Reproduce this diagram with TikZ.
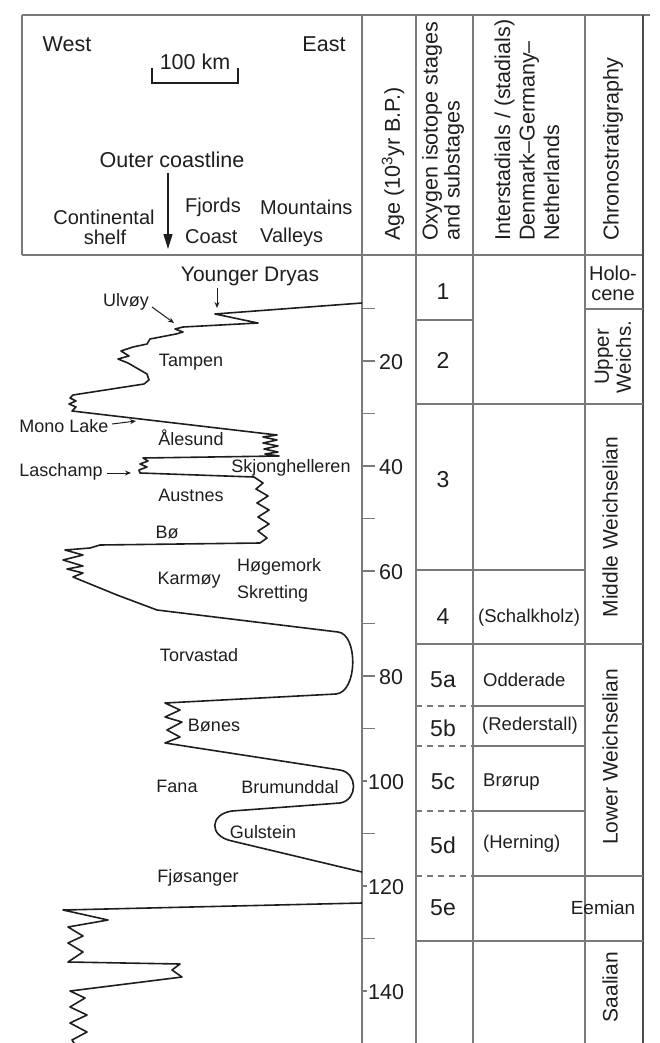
\documentclass[tikz,border=0pt]{standalone}
\usepackage{fontspec}
\setmainfont{Liberation Sans}
\usetikzlibrary{arrows.meta}
\definecolor{ink}{HTML}{1E1E1E}
\definecolor{rulec}{HTML}{7A7A7A}
\begin{document}
\begin{tikzpicture}[x=1pt,y=-1pt,
  tbl/.style={draw=rulec,line width=1.1pt},
  tbldash/.style={draw=rulec,line width=1.1pt,dash pattern=on 6pt off 5pt},
  curve/.style={draw=ink,line width=1.6pt,line join=round},
  ptr/.style={draw=ink,line width=1pt,-{Stealth[length=6pt,width=5pt]}},
  lbl/.style={inner sep=0pt,text=ink,font=\fontsize{18}{20}\selectfont},
  hdA/.style={inner sep=0pt,text=ink,font=\fontsize{21.5}{22}\selectfont},
  hdB/.style={inner sep=0pt,text=ink,font=\fontsize{20}{22}\selectfont},
  hdR/.style={inner sep=0pt,text=ink,font=\fontsize{21.5}{22}\selectfont,rotate=90,anchor=west,align=left},
  chr/.style={inner sep=0pt,text=ink,font=\fontsize{21}{22}\selectfont,rotate=90},
  stg/.style={inner sep=0pt,text=ink,font=\fontsize{23}{24}\selectfont},
  ist/.style={inner sep=0pt,text=ink,font=\fontsize{18.5}{20}\selectfont,anchor=west},
  agel/.style={inner sep=0pt,text=ink,font=\fontsize{21.5}{22}\selectfont}
]
\useasboundingbox (0,0) rectangle (660,1043);

% ---------- frame and table ----------
\draw[tbl] (22,15) -- (650,15);
\draw[tbl] (22,15) -- (22,255);
\draw[tbl,line width=1.6pt] (22,255) -- (643,255);
\draw[tbl] (362,15) -- (362,1043);
\draw[tbl] (416,15) -- (416,1043);
\draw[tbl] (473,15) -- (473,1043);
\draw[tbl] (585,15) -- (585,1043);
\draw[tbl,line width=1.6pt,draw=ink!80] (643,15) -- (643,1043);

\draw[tbl] (416,320) -- (473,320);
\draw[tbl] (585,309) -- (643,309);
\draw[tbl] (416,404) -- (643,404);
\draw[tbl] (416,570) -- (585,570);
\draw[tbl] (416,644) -- (643,644);
\draw[tbldash] (416,706) -- (473,706);
\draw[tbl] (473,706) -- (585,706);
\draw[tbldash] (416,746) -- (473,746);
\draw[tbl] (473,746) -- (585,746);
\draw[tbldash] (416,811) -- (473,811);
\draw[tbl] (473,811) -- (585,811);
\draw[tbldash] (416,876) -- (473,876);
\draw[tbl] (473,876) -- (643,876);
\draw[tbl] (416,941) -- (643,941);

% ---------- age axis ----------
\foreach \a in {10,30,50,70,90,110,130}
  \draw[tbl] (362,{256+5.25*\a}) -- (375,{256+5.25*\a});
\foreach \a in {20,40,60,80}
  {\draw[tbl] (362,{256+5.25*\a}) -- (375,{256+5.25*\a});
   \node[agel,anchor=west] (age\a) at (379,{257+5.25*\a}) {\a};}
\foreach \a in {100,120,140}
  {\draw[tbl] (362,{256+5.25*\a}) -- (367,{256+5.25*\a});
   \node[agel,anchor=west] (age\a) at (368,{257+5.25*\a}) {\a};}

% ---------- header, left ----------
\node[hdA] (west) at (67,44) {West};
\node[hdA] (east) at (324,44) {East};
\node[hdA] (km) at (195,62) {100 km};
\coordinate (sbA) at (152,68);
\coordinate (sbB) at (152,83);
\coordinate (sbC) at (238,83);
\coordinate (sbD) at (238,68);
\draw[draw=ink,line width=1.2pt] (sbA) -- (sbB) -- (sbC) -- (sbD);
\node[hdA] (outer) at (172,160) {Outer coastline};
\coordinate (coastS) at (168,173);
\coordinate (coastE) at (168,249);
\draw[draw=ink,line width=1.3pt,-{Triangle[length=15pt,width=9pt]}] (coastS) -- (coastE);
\node[hdB] (cont) at (104,217) {Continental};
\node[hdB] (shelf) at (105,237) {shelf};
\node[hdB,anchor=west] (fjords) at (185,207) {Fjords};
\node[hdB,anchor=west] (coast) at (185,237) {Coast};
\node[hdB,anchor=west] (mount) at (260,207) {Mountains};
\node[hdB,anchor=west] (valleys) at (260,237) {Valleys};

% ---------- header, right ----------
\node[hdR] (agehd) at (393,241) {Age (10\textsuperscript{3}yr B.P.)};
\node[hdR] (oxyhd) at (443,241) {Oxygen isotope stages\\and substages};
\node[hdR,font=\fontsize{21.5}{24.5}\selectfont] (interhd) at (527,241) {Interstadials / (stadials)\\Denmark–Germany–\\Netherlands};
\node[hdR] (chronohd) at (613,241) {Chronostratigraphy};

% ---------- isotope stages ----------
\node[stg] (s1) at (443,292) {1};
\node[stg] (s2) at (443,360) {2};
\node[stg] (s3) at (443,480) {3};
\node[stg] (s4) at (443,617) {4};
\node[stg] (s5a) at (443,680) {5a};
\node[stg] (s5b) at (443,728) {5b};
\node[stg] (s5c) at (443,782) {5c};
\node[stg] (s5d) at (443,845) {5d};
\node[stg] (s5e) at (443,908) {5e};

% ---------- interstadials ----------
\node[ist] (schalk) at (478,618) {(Schalkholz)};
\node[ist] (odde) at (483,680) {Odderade};
\node[ist] (reder) at (482,726) {(Rederstall)};
\node[ist] (brorup) at (483,782) {Brørup};
\node[ist] (herning) at (483,844) {(Herning)};

% ---------- chronostratigraphy ----------
\node[inner sep=0pt,text=ink,font=\fontsize{20}{20}\selectfont,align=center] (holo) at (613,283) {Holo-\\cene};
\node[chr,align=center,font=\fontsize{20.5}{22}\selectfont] (upper) at (613,357) {Upper\\Weichs.};
\node[chr] (middle) at (610,527) {Middle Weichselian};
\node[chr] (lower) at (610,757) {Lower Weichselian};
\node[chr] (saal) at (610,987) {Saalian};
\node[inner sep=0pt,text=ink,font=\fontsize{19}{20}\selectfont] (eem) at (603,908) {Eemian};

% ---------- sea-level / glacier curve ----------
\draw[curve] (362,303) -- (215,314) -- (258,323) -- (183,327) -- (175,329) -- (183,332)
  -- (176,334) -- (150,339) -- (147,344) -- (133,347) -- (121,351) -- (129,356)
  -- (118,359) -- (128,363) -- (147,374) -- (149,380) -- (144,384) -- (73,395)
  -- (70,398) -- (76,401) -- (69,404) -- (76,407) -- (72,411) -- (277,435)
  -- (263,437) -- (277,440) -- (263,443) -- (278,446) -- (264,449) -- (278,452)
  -- (265,454) -- (279,456) -- (143,458) -- (148,461) -- (140,464) -- (147,467)
  -- (139,470) -- (140,473) -- (254,477) -- (263,483) -- (256,489) -- (268,496)
  -- (257,503) -- (269,510) -- (258,517) -- (269,524) -- (258,531) -- (267,538)
  -- (260,543) -- (100,545) -- (90,548) -- (65,550) -- (83,555) -- (63,560)
  -- (83,566) -- (67,569) -- (83,573) -- (73,577) -- (117,595) -- (157,610)
  -- (338,632) .. controls (358,634) and (358,692) .. (336,694)
  -- (165,703) -- (180,710) -- (165,717) -- (182,722) -- (167,730) -- (180,737)
  -- (165,743) -- (340,770) .. controls (358,773) and (358,800) .. (340,803)
  -- (232,811) .. controls (210,814) and (208,836) .. (232,841) -- (362,872);
\draw[curve] (362,903) -- (63,910) -- (108,920) -- (68,927) -- (83,936) -- (68,943)
  -- (83,952) -- (68,962) -- (180,964) -- (172,970) -- (182,977) -- (70,991)
  -- (85,998) -- (70,1007) -- (87,1015) -- (70,1023) -- (87,1032) -- (72,1040)
  -- (76,1046);

% ---------- curve labels ----------
\node[inner sep=0pt,text=ink,font=\fontsize{21}{22}\selectfont] (yd) at (250,276) {Younger Dryas};
\coordinate (ydS) at (217,288);
\coordinate (ydT) at (217,308);
\draw[ptr] (ydS) -- (ydT);
\node[lbl] (ulv) at (126,302) {Ulvøy};
\coordinate (ulvS) at (152,307);
\coordinate (ulvT) at (174,323);
\draw[ptr] (ulvS) -- (ulvT);
\node[lbl] (tampen) at (191,362) {Tampen};
\node[lbl] (mono) at (64,426) {Mono Lake};
\coordinate (monoS) at (112,424);
\coordinate (monoT) at (136,421);
\draw[ptr] (monoS) -- (monoT);
\node[lbl] (ales) at (191,438) {Ålesund};
\node[lbl] (skj) at (291,468) {Skjonghelleren};
\node[lbl] (lasch) at (61,472) {Laschamp};
\coordinate (laS) at (107,473);
\coordinate (laT) at (131,473);
\draw[ptr] (laS) -- (laT);
\node[lbl] (aust) at (191,495) {Austnes};
\node[lbl] (bo) at (167,532) {Bø};
\node[lbl] (karm) at (189,580) {Karmøy};
\node[lbl,anchor=west] (hoge) at (237,567) {Høgemork};
\node[lbl,anchor=west] (skret) at (237,594) {Skretting};
\node[lbl] (torv) at (199,655) {Torvastad};
\node[lbl] (bones) at (214,725) {Bønes};
\node[lbl] (fana) at (177,786) {Fana};
\node[lbl] (brum) at (290,787) {Brumunddal};
\node[lbl] (gul) at (263,832) {Gulstein};
\node[lbl] (fjos) at (198,878) {Fjøsanger};
\end{tikzpicture}
\end{document}
